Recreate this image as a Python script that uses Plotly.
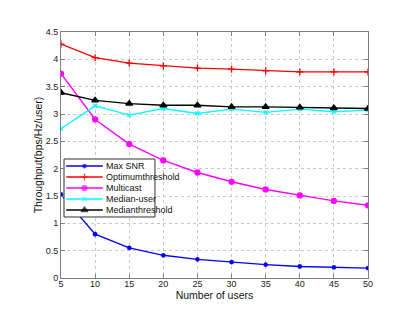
import plotly.graph_objects as go

# ===================== 数据 =====================
users = [5, 10, 15, 20, 25, 30, 35, 40, 45, 50]
max_snr = [1.53, 0.80, 0.55, 0.415, 0.34, 0.29, 0.245, 0.21, 0.195, 0.18]
optimum_threshold = [4.28, 4.03, 3.93, 3.88, 3.84, 3.82, 3.79, 3.77, 3.77, 3.77]
multicast = [3.74, 2.90, 2.45, 2.15, 1.93, 1.76, 1.62, 1.51, 1.41, 1.33]
median_user = [2.73, 3.15, 2.98, 3.10, 3.01, 3.09, 3.03, 3.09, 3.04, 3.07]
median_threshold = [3.39, 3.25, 3.19, 3.16, 3.16, 3.13, 3.13, 3.12, 3.11, 3.10]

x_ticks = [5, 10, 15, 20, 25, 30, 35, 40, 45, 50]
y_ticks = [0, 0.5, 1, 1.5, 2, 2.5, 3, 3.5, 4, 4.5]
y_tick_labels = ["0", "0.5", "1", "1.5", "2", "2.5", "3", "3.5", "4", "4.5"]

# 名称, 数据, 颜色, 标记, 大小
series = [
    ("Max SNR", max_snr, "#0000ff", "asterisk-open", 4),
    ("Optimumthreshold", optimum_threshold, "#ff0000", "cross-thin-open", 5),
    ("Multicast", multicast, "#ff00ff", "circle", 5),
    ("Median-user", median_user, "#00ffff", "x-thin-open", 4),
    ("Medianthreshold", median_threshold, "#000000", "triangle-up", 6),
]

fig = go.Figure()
for name, vals, color, symbol, size in series:
    fig.add_trace(go.Scatter(
        x=users, y=vals, name=name, mode="lines+markers", showlegend=False,
        line=dict(color=color, width=1.4),
        marker=dict(color=color, symbol=symbol, size=size,
                    line=dict(color=color, width=1.3)),
    ))

# ===================== 手动图例（盖在曲线上方，和 MATLAB 一样紧凑） =====================
box_x0, box_x1 = 0.0098, 0.306
box_y0, box_y1 = 0.248, 0.4837
fig.add_trace(go.Scatter(
    x=[box_x0, box_x1, box_x1, box_x0, box_x0],
    y=[box_y0, box_y0, box_y1, box_y1, box_y0],
    xaxis="x2", yaxis="y2", mode="lines", fill="toself",
    fillcolor="white", line=dict(color="#333", width=1),
    showlegend=False, hoverinfo="skip",
))
row_top, row_step = 0.455, 0.0447
for i, (name, vals, color, symbol, size) in enumerate(series):
    ry = row_top - i * row_step
    fig.add_trace(go.Scatter(
        x=[0.017, 0.0765, 0.136], y=[ry, ry, ry],
        xaxis="x2", yaxis="y2", mode="lines+markers",
        line=dict(color=color, width=1.4),
        marker=dict(color=color, symbol=symbol, size=[0, size, 0],
                    line=dict(color=color, width=1.3)),
        showlegend=False, hoverinfo="skip",
    ))
    fig.add_annotation(x=0.14, y=ry, xref="paper", yref="paper", text=name,
                       showarrow=False, xanchor="left", yanchor="middle",
                       font=dict(size=9, color="#111"))

axis_style = dict(
    showline=True, linecolor="#7f7f7f", linewidth=1, mirror="ticks",
    ticks="inside", ticklen=4, tickcolor="#7f7f7f",
    showgrid=True, gridcolor="#c8c8c8", griddash="dot", gridwidth=1,
    zeroline=False, tickfont=dict(size=9, color="#222"),
)

fig.update_xaxes(range=[5, 50], tickvals=x_ticks, ticklabelstandoff=-3,
                 title=dict(text="Number of users", font=dict(size=10.5, color="#111"), standoff=1),
                 **axis_style)
fig.update_yaxes(range=[0, 4.5], tickvals=y_ticks, ticktext=y_tick_labels,
                 title=dict(text="Throughput(bps/Hz/user)", font=dict(size=10.5, color="#111"), standoff=1),
                 **axis_style)

fig.update_layout(
    width=415, height=321,
    margin=dict(l=61, r=47, t=32, b=43),
    paper_bgcolor="white", plot_bgcolor="white",
    font=dict(family="Liberation Sans, Arial, sans-serif"),
    showlegend=False,
    xaxis2=dict(overlaying="x", range=[0, 1], visible=False, fixedrange=True),
    yaxis2=dict(overlaying="y", range=[0, 1], visible=False, fixedrange=True),
)

# 去掉页面默认的 8px 边距，让图正好贴在窗口左上角
fig.write_html("out.html", config={"displayModeBar": False},
               post_script="document.body.style.margin='0';")
